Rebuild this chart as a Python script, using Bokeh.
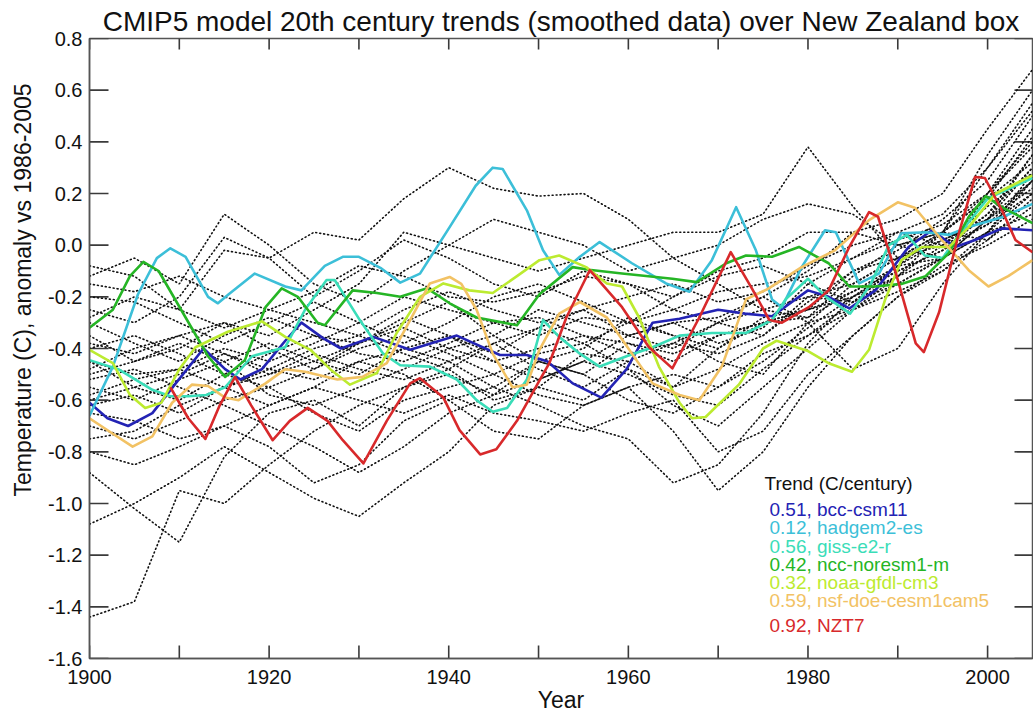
from bokeh.plotting import figure
from bokeh.models import Range1d, FixedTicker, PrintfTickFormatter, ColumnDataSource, Title
from bokeh.core.properties import value
from bokeh.embed import file_html
from bokeh.resources import INLINE

FONT = "Liberation Sans"

# ---------------- data ----------------
title_text = "CMIP5 model 20th century trends (smoothed data) over New Zealand box"
x_title = "Year"
y_title = "Temperature (C), anomaly vs 1986-2005"
x_ticks = [1900, 1910, 1920, 1930, 1940, 1950, 1960, 1970, 1980, 1990, 2000]
x_labels = {1900: "1900", 1910: "", 1920: "1920", 1930: "", 1940: "1940", 1950: "",
            1960: "1960", 1970: "", 1980: "1980", 1990: "", 2000: "2000"}
y_ticks = [-1.6, -1.4, -1.2, -1.0, -0.8, -0.6, -0.4, -0.2, 0.0, 0.2, 0.4, 0.6, 0.8]

# dotted CMIP5 ensemble members, sampled every 5 years 1900..2005
dot_years = [1900, 1905, 1910, 1915, 1920, 1925, 1930, 1935, 1940, 1945, 1950,
             1955, 1960, 1965, 1970, 1975, 1980, 1985, 1990, 1995, 2000, 2005]
d01 = [-1.44, -1.38, -0.95, -1.00, -0.85, -0.72, -0.62, -0.55, -0.50, -0.58, -0.45, -0.50, -0.38, -0.42, -0.35, -0.30, -0.25, -0.20, -0.12, -0.05, 0.10, 0.35]
d02 = [-0.88, -1.02, -1.15, -0.82, -0.65, -0.60, -0.70, -0.55, -0.48, -0.60, -0.55, -0.42, -0.45, -0.55, -0.40, -0.30, -0.28, -0.18, -0.10, -0.02, 0.12, 0.30]
d03 = [-1.08, -1.00, -0.90, -0.78, -0.88, -0.98, -1.05, -0.92, -0.80, -0.62, -0.55, -0.60, -0.48, -0.62, -0.70, -0.55, -0.40, -0.25, -0.15, -0.05, 0.10, 0.25]
d04 = [-0.80, -0.85, -0.78, -0.70, -0.78, -0.92, -0.85, -0.68, -0.60, -0.72, -0.75, -0.62, -0.55, -0.72, -0.95, -0.80, -0.55, -0.35, -0.20, -0.10, 0.05, 0.20]
d05 = [-0.08, -0.12, -0.25, -0.02, -0.05, -0.20, -0.10, 0.02, -0.05, -0.15, -0.20, -0.10, -0.15, -0.25, -0.30, -0.20, -0.10, 0.05, 0.10, 0.20, 0.45, 0.68]
d06 = [-0.12, -0.05, -0.15, 0.12, 0.00, -0.15, -0.22, -0.10, 0.00, 0.10, 0.05, 0.00, -0.10, -0.05, 0.00, 0.10, 0.16, 0.12, 0.00, 0.05, 0.30, 0.55]
d07 = [-0.25, -0.30, -0.20, 0.03, -0.05, 0.05, 0.02, 0.18, 0.30, 0.22, 0.19, 0.20, 0.10, -0.05, -0.15, -0.25, -0.20, -0.15, -0.05, 0.05, 0.35, 0.60]
d08 = [-0.35, -0.45, -0.40, -0.30, -0.35, -0.25, -0.15, 0.05, 0.00, -0.05, -0.10, -0.05, 0.00, 0.05, 0.05, 0.12, 0.38, 0.15, -0.05, 0.05, 0.20, 0.40]
d09 = [-0.45, -0.50, -0.48, -0.40, -0.45, -0.38, -0.30, -0.20, -0.25, -0.30, -0.35, -0.28, -0.30, -0.20, -0.10, -0.05, 0.05, 0.05, 0.00, -0.05, 0.20, 0.45]
d10 = [-0.55, -0.60, -0.52, -0.45, -0.38, -0.45, -0.50, -0.40, -0.35, -0.45, -0.40, -0.35, -0.38, -0.45, -0.35, -0.30, -0.25, -0.10, -0.05, 0.02, 0.10, 0.30]
d11 = [-0.62, -0.58, -0.65, -0.55, -0.50, -0.42, -0.48, -0.52, -0.45, -0.38, -0.48, -0.55, -0.45, -0.38, -0.42, -0.35, -0.20, -0.22, -0.08, 0.05, 0.02, 0.15]
d12 = [-0.40, -0.35, -0.42, -0.50, -0.55, -0.48, -0.40, -0.35, -0.42, -0.50, -0.42, -0.38, -0.30, -0.35, -0.45, -0.50, -0.30, -0.15, -0.05, 0.00, 0.08, 0.25]
d13 = [-0.30, -0.38, -0.45, -0.35, -0.28, -0.35, -0.42, -0.45, -0.38, -0.30, -0.28, -0.35, -0.42, -0.38, -0.30, -0.25, -0.28, -0.12, 0.00, 0.05, 0.18, 0.42]
d14 = [-0.50, -0.45, -0.38, -0.45, -0.58, -0.62, -0.55, -0.48, -0.40, -0.45, -0.52, -0.45, -0.35, -0.30, -0.38, -0.32, -0.15, -0.05, 0.05, 0.00, 0.12, 0.35]
d15 = [-0.70, -0.75, -0.68, -0.60, -0.55, -0.65, -0.72, -0.60, -0.55, -0.50, -0.58, -0.62, -0.55, -0.50, -0.55, -0.45, -0.32, -0.20, -0.10, -0.02, 0.08, 0.20]
d16 = [-0.20, -0.22, -0.30, -0.38, -0.30, -0.22, -0.30, -0.38, -0.30, -0.20, -0.15, -0.22, -0.30, -0.25, -0.18, -0.15, -0.12, -0.05, 0.02, 0.08, 0.20, 0.38]
d17 = [-0.45, -0.55, -0.60, -0.50, -0.42, -0.35, -0.38, -0.30, -0.22, -0.35, -0.45, -0.40, -0.28, -0.35, -0.40, -0.28, -0.25, -0.18, -0.08, -0.05, 0.05, 0.12]
d18 = [-0.75, -0.72, -0.62, -0.55, -0.62, -0.55, -0.45, -0.50, -0.60, -0.55, -0.45, -0.50, -0.60, -0.65, -0.55, -0.42, -0.35, -0.22, -0.15, -0.05, 0.05, 0.28]
d19 = [-0.38, -0.42, -0.35, -0.30, -0.40, -0.48, -0.38, -0.28, -0.35, -0.42, -0.32, -0.25, -0.35, -0.40, -0.30, -0.35, -0.22, -0.10, -0.02, 0.10, 0.25, 0.50]
d20 = [-0.58, -0.52, -0.48, -0.55, -0.48, -0.40, -0.35, -0.42, -0.48, -0.38, -0.32, -0.38, -0.48, -0.55, -0.48, -0.38, -0.30, -0.25, -0.12, 0.00, 0.15, 0.28]
d21 = [-0.65, -0.68, -0.75, -0.70, -0.62, -0.55, -0.60, -0.65, -0.58, -0.65, -0.68, -0.72, -0.65, -0.60, -0.80, -0.72, -0.50, -0.35, -0.20, -0.08, 0.00, 0.10]
d22 = [-0.28, -0.20, -0.25, -0.32, -0.25, -0.30, -0.35, -0.25, -0.18, -0.25, -0.30, -0.25, -0.20, -0.15, -0.22, -0.18, -0.08, 0.00, 0.05, 0.12, 0.30, 0.52]
d23 = [-0.52, -0.48, -0.55, -0.62, -0.70, -0.78, -0.88, -0.78, -0.65, -0.58, -0.52, -0.45, -0.50, -0.58, -0.62, -0.48, -0.35, -0.25, -0.18, -0.10, 0.02, 0.18]
d24 = [-0.15, -0.18, -0.12, -0.20, -0.25, -0.18, -0.08, -0.12, -0.20, -0.22, -0.18, -0.12, -0.15, -0.20, -0.12, -0.08, -0.15, -0.22, -0.12, 0.05, 0.18, 0.32]
d25 = [-0.60, -0.55, -0.50, -0.42, -0.48, -0.52, -0.45, -0.40, -0.45, -0.55, -0.62, -0.70, -0.75, -0.92, -0.85, -0.65, -0.38, -0.20, -0.08, 0.02, 0.10, 0.22]
d26 = [-0.48, -0.40, -0.35, -0.42, -0.50, -0.45, -0.38, -0.32, -0.40, -0.35, -0.25, -0.30, -0.35, -0.30, -0.28, -0.20, -0.30, -0.48, -0.40, -0.15, 0.05, 0.25]
dotted_members = [d01, d02, d03, d04, d05, d06, d07, d08, d09, d10, d11, d12, d13,
                  d14, d15, d16, d17, d18, d19, d20, d21, d22, d23, d24, d25, d26]

# highlighted models (year, anomaly)
bcc_years = [1900, 1902, 1904.3, 1907, 1909.6, 1912.7, 1915.1, 1916.8, 1919.2, 1921.8, 1923.6, 1926, 1928, 1931.6, 1935.7, 1940.9, 1945.7, 1948.7, 1951, 1953.8, 1957, 1959.8, 1962.7, 1965.7, 1970, 1973, 1976, 1980, 1982.3, 1984.6, 1987.5, 1991.2, 1993.8, 1996.4, 1998.6, 2001.6, 2005]
bcc_vals = [-0.61, -0.67, -0.70, -0.65, -0.535, -0.40, -0.48, -0.52, -0.48, -0.37, -0.30, -0.36, -0.40, -0.355, -0.405, -0.35, -0.425, -0.425, -0.45, -0.535, -0.59, -0.48, -0.30, -0.285, -0.25, -0.265, -0.275, -0.175, -0.20, -0.245, -0.175, -0.007, 0.058, -0.007, 0.02, 0.065, 0.058]

had_years = [1900, 1902.6, 1905.4, 1907.5, 1909, 1910.7, 1913.2, 1914.3, 1915.5, 1918.4, 1921.8, 1923.6, 1926.2, 1928.2, 1930, 1932.5, 1934.6, 1936.8, 1940.1, 1943, 1944.9, 1946, 1948.7, 1950.5, 1952.3, 1954.6, 1956.8, 1960.4, 1964.2, 1966.8, 1969.3, 1972, 1974.2, 1976, 1977.1, 1979.3, 1981.9, 1983.1, 1985.7, 1987.9, 1990.4, 1993.1, 1995.7, 1997.9, 2001.6, 2005]
had_vals = [-0.66, -0.47, -0.19, -0.05, -0.012, -0.045, -0.20, -0.225, -0.19, -0.11, -0.16, -0.175, -0.08, -0.045, -0.045, -0.09, -0.145, -0.11, 0.07, 0.23, 0.30, 0.295, 0.135, -0.02, -0.115, -0.045, 0.012, -0.07, -0.148, -0.18, -0.058, 0.147, -0.02, -0.21, -0.24, -0.085, 0.058, 0.05, -0.148, -0.11, 0.046, 0.05, 0.04, 0.07, 0.108, 0.16]

giss_years = [1900, 1903.2, 1907, 1909, 1911, 1913, 1915.1, 1918.1, 1921.8, 1924, 1926.4, 1927.3, 1930.1, 1932.7, 1934.6, 1937.9, 1940.9, 1943.1, 1944.9, 1946.5, 1948.7, 1950.5, 1952.3, 1954.6, 1956.8, 1959.8, 1962.7, 1965.7, 1969.3, 1973.1, 1976, 1977.5, 1980, 1982, 1984.7, 1987, 1989, 1991, 1993, 1995, 1997, 2000, 2005]
giss_vals = [-0.445, -0.48, -0.56, -0.585, -0.585, -0.58, -0.55, -0.43, -0.395, -0.25, -0.135, -0.135, -0.29, -0.42, -0.465, -0.47, -0.52, -0.60, -0.645, -0.63, -0.52, -0.29, -0.355, -0.42, -0.47, -0.43, -0.395, -0.35, -0.34, -0.34, -0.29, -0.21, -0.13, -0.20, -0.265, -0.15, 0.0, 0.04, -0.04, -0.05, 0.05, 0.18, 0.26]

ncc_years = [1900, 1902.6, 1904.5, 1906, 1907.7, 1910.7, 1913.2, 1915.1, 1917.3, 1919.6, 1921.4, 1923.2, 1925.4, 1926.2, 1929.3, 1932, 1934.6, 1937.6, 1940.1, 1943.1, 1947.6, 1950.1, 1953.8, 1955.6, 1959.3, 1964.9, 1967.6, 1970.9, 1973.1, 1976, 1979, 1982.3, 1984.6, 1987.5, 1990.4, 1993.1, 1995.7, 1997.9, 1999.8, 2001.6, 2005]
ncc_vals = [-0.32, -0.25, -0.12, -0.065, -0.10, -0.28, -0.43, -0.51, -0.445, -0.24, -0.167, -0.20, -0.30, -0.31, -0.175, -0.185, -0.20, -0.167, -0.225, -0.28, -0.31, -0.19, -0.085, -0.095, -0.11, -0.13, -0.143, -0.07, -0.04, -0.045, -0.007, -0.07, -0.16, -0.16, -0.15, -0.12, -0.03, 0.11, 0.19, 0.147, 0.085]

noaa_years = [1900, 1902.6, 1904.5, 1906.2, 1908, 1910, 1911.8, 1915.4, 1919.2, 1921.8, 1924.6, 1926.8, 1929, 1932, 1934.2, 1936.8, 1939.4, 1942.3, 1944.9, 1947.6, 1950.1, 1952.3, 1955.3, 1957.6, 1959.3, 1961.2, 1963.4, 1965.7, 1967.1, 1968.6, 1972.3, 1975, 1976.5, 1980, 1982.3, 1984.9, 1986.8, 1988.6, 1990.4, 1992.7, 1995.7, 1997.9, 2000.9, 2005]
noaa_vals = [-0.405, -0.457, -0.58, -0.63, -0.61, -0.48, -0.395, -0.335, -0.295, -0.355, -0.405, -0.48, -0.54, -0.495, -0.34, -0.20, -0.148, -0.175, -0.185, -0.12, -0.058, -0.04, -0.085, -0.148, -0.16, -0.28, -0.47, -0.61, -0.67, -0.665, -0.54, -0.40, -0.37, -0.41, -0.457, -0.49, -0.405, -0.21, -0.058, -0.007, -0.007, 0.07, 0.20, 0.27]

nsf_years = [1900, 1902.6, 1904.8, 1907, 1909.2, 1911.4, 1913.2, 1915.1, 1916.6, 1919.6, 1921.8, 1924, 1927.6, 1930.4, 1933.1, 1935.7, 1937.9, 1940.1, 1941.4, 1943.1, 1944.9, 1947.1, 1948.7, 1950.1, 1952.3, 1954.6, 1957.6, 1960.1, 1962.7, 1965.7, 1967.9, 1970.4, 1973.1, 1975.5, 1979.3, 1983, 1986.8, 1990, 1991.9, 1994.9, 1997.9, 2000.1, 2002.3, 2005]
nsf_vals = [-0.67, -0.73, -0.78, -0.74, -0.61, -0.54, -0.545, -0.59, -0.60, -0.535, -0.48, -0.49, -0.52, -0.51, -0.457, -0.29, -0.148, -0.123, -0.15, -0.25, -0.42, -0.55, -0.54, -0.405, -0.265, -0.22, -0.28, -0.405, -0.535, -0.58, -0.60, -0.47, -0.21, -0.17, -0.085, -0.02, 0.097, 0.166, 0.145, 0.02, -0.097, -0.16, -0.12, -0.058]

nzt7_years = [1909, 1911, 1912.9, 1914.5, 1916.2, 1918, 1920.4, 1922.3, 1924.3, 1926.5, 1928.2, 1930.5, 1933.1, 1935.7, 1936.8, 1939.4, 1941.2, 1943.5, 1945.3, 1947.6, 1950, 1951.2, 1953.1, 1955.7, 1959.3, 1962.3, 1964.9, 1967.9, 1971.4, 1973.8, 1975.7, 1977.1, 1980.1, 1982.3, 1984.6, 1986.8, 1987.8, 1989.8, 1992, 1992.9, 1994.6, 1996.8, 1998.6, 1999.7, 2001.6, 2003.1, 2005]
nzt7_vals = [-0.55, -0.67, -0.75, -0.62, -0.51, -0.62, -0.755, -0.68, -0.63, -0.68, -0.755, -0.845, -0.68, -0.535, -0.515, -0.59, -0.716, -0.81, -0.79, -0.68, -0.53, -0.457, -0.28, -0.097, -0.24, -0.395, -0.477, -0.28, -0.027, -0.17, -0.29, -0.30, -0.24, -0.175, -0.007, 0.128, 0.11, -0.11, -0.38, -0.414, -0.26, 0.046, 0.264, 0.26, 0.135, 0.02, -0.027]

model_names = ["bcc-csm11", "hadgem2-es", "giss-e2-r", "ncc-noresm1-m", "noaa-gfdl-cm3", "nsf-doe-cesm1cam5", "NZT7"]
trend_values = ["0.51", "0.12", "0.56", "0.42", "0.32", "0.59", "0.92"]
model_colors = ["#2323B4", "#3CBFD8", "#3ADDB8", "#25B525", "#BCEB30", "#F2C264", "#D8292B"]
model_years = [bcc_years, had_years, giss_years, ncc_years, noaa_years, nsf_years, nzt7_years]
model_vals = [bcc_vals, had_vals, giss_vals, ncc_vals, noaa_vals, nsf_vals, nzt7_vals]

# ---------------- layout ----------------
X0, X1, Y0, Y1 = 1900, 2005, -1.6, 0.8
FRAME_L, FRAME_R, FRAME_T, FRAME_B = 89, 1032, 38, 658
px_per_year = (FRAME_R - FRAME_L) / (X1 - X0)
px_per_unit = (FRAME_B - FRAME_T) / (Y1 - Y0)


def dx(px):
    return px / px_per_year


def dy(px):
    return px / px_per_unit


p = figure(width=1033, height=715, x_range=Range1d(X0, X1), y_range=Range1d(Y0, Y1),
           output_backend="svg", toolbar_location=None,
           min_border_left=FRAME_L, min_border_right=1033 - FRAME_R,
           min_border_top=FRAME_T, min_border_bottom=715 - FRAME_B)
p.background_fill_color = "white"
p.border_fill_color = "white"
p.grid.visible = False
p.outline_line_color = "#555555"
p.outline_line_width = 1.5

p.title.text = title_text
p.title.align = "center"
p.title.text_font = FONT
p.title.text_font_size = "28px"
p.title.text_font_style = "normal"
p.title.text_color = "#111111"
p.title.standoff = 3

axis_color = "#555555"
xa = p.xaxis[0]
xa.ticker = FixedTicker(ticks=x_ticks)
xa.major_label_overrides = x_labels
xa.major_tick_in = 0
xa.major_tick_out = 0
xa.minor_tick_line_color = None
xa.axis_line_color = axis_color
xa.axis_line_width = 1.5
xa.major_label_text_font = FONT
xa.major_label_text_font_size = "20px"
xa.major_label_text_color = "#111111"
xa.major_label_standoff = 11
xa.axis_label = x_title
xa.axis_label_text_font = FONT
xa.axis_label_text_font_size = "23px"
xa.axis_label_text_font_style = "normal"
xa.axis_label_text_color = "#111111"
xa.axis_label_standoff = 0

ya = p.yaxis[0]
ya.ticker = FixedTicker(ticks=y_ticks)
ya.formatter = PrintfTickFormatter(format="%.1f")
ya.major_tick_in = 0
ya.major_tick_out = 0
ya.minor_tick_line_color = None
ya.axis_line_color = axis_color
ya.axis_line_width = 1.5
ya.major_label_text_font = FONT
ya.major_label_text_font_size = "20px"
ya.major_label_text_color = "#111111"
ya.major_label_standoff = 7

# rotated y title, top end placed 45 px below the frame top
p.add_layout(Title(text=y_title, align="right", offset=45, vertical_align="top",
                   text_font=FONT, text_font_size="23px", text_font_style="normal",
                   text_color="#111111", standoff=16), "left")

# inward tick marks on all four sides
tick_color = "#3a3a3a"
p.segment(x0=x_ticks, y0=[Y0] * len(x_ticks), x1=x_ticks, y1=[Y0 + dy(13)] * len(x_ticks),
          line_color=tick_color, line_width=1.6)
p.segment(x0=x_ticks, y0=[Y1] * len(x_ticks), x1=x_ticks, y1=[Y1 - dy(11)] * len(x_ticks),
          line_color=tick_color, line_width=1.6)
p.segment(x0=[X0] * len(y_ticks), y0=y_ticks, x1=[X0 + dx(19)] * len(y_ticks), y1=y_ticks,
          line_color=tick_color, line_width=1.6)
p.segment(x0=[X1] * len(y_ticks), y0=y_ticks, x1=[X1 - dx(18)] * len(y_ticks), y1=y_ticks,
          line_color=tick_color, line_width=1.6)

# dotted ensemble
for member in dotted_members:
    p.line(dot_years, member, line_color="#111111", line_width=1.6, line_dash="1 3",
           line_cap="round")

# highlighted models
for yrs, vals, col in zip(model_years, model_vals, model_colors):
    p.line(yrs, vals, line_color=col, line_width=2.6, line_join="round")

# trend legend text
p.text(x=[X0 + dx(764 - FRAME_L)], y=[Y1 - dy(483 - FRAME_T)], text=["Trend (C/century)"],
       text_font=value(FONT), text_font_size="19px", text_color="#111111",
       text_baseline="middle", text_align="left")
leg_px = [509, 527, 546, 564, 582, 600, 625]
leg_text = [t + ", " + n for t, n in zip(trend_values, model_names)]
src = ColumnDataSource(dict(x=[X0 + dx(769 - FRAME_L)] * len(leg_text),
                            y=[Y1 - dy(v - FRAME_T) for v in leg_px],
                            text=leg_text, color=model_colors))
p.text(x="x", y="y", text="text", text_color="color", source=src, text_font=value(FONT),
       text_font_size="19px", text_baseline="middle", text_align="left")

open("out.html", "w").write(file_html(p, INLINE))
